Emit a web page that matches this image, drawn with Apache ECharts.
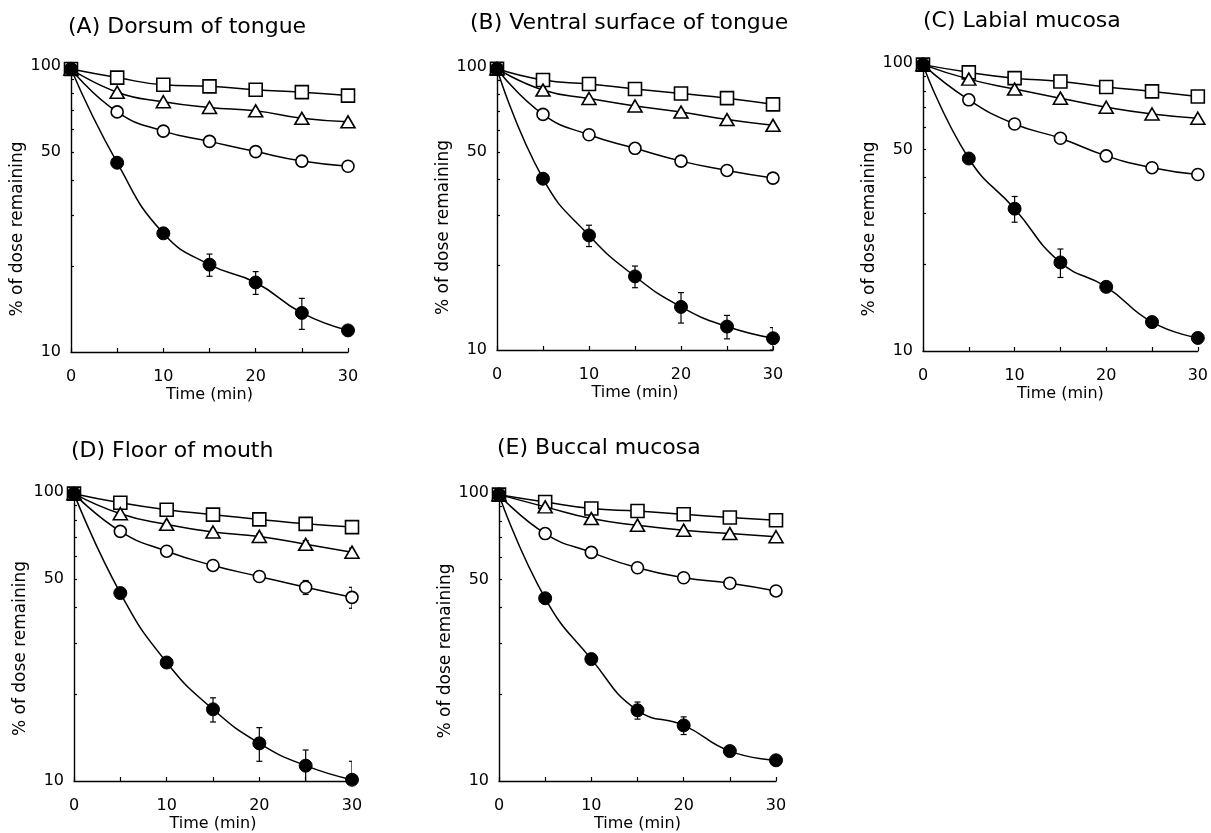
<!DOCTYPE html>
<html>
<head>
<meta charset="utf-8">
<script src="https://cdn.jsdelivr.net/npm/echarts@6/dist/echarts.min.js"></script>
<style>
  html,body{margin:0;padding:0;background:#fff;}
  #main{width:1211px;height:833px;}
</style>
</head>
<body>
<div id="main"></div>
<script>
// time points (min)
var times = [0, 5, 10, 15, 20, 25, 30];
var xLabelValues = [0, 10, 20, 30];
var xTickValues = [0, 5, 10, 15, 20, 25, 30];
var yLabelValues = [10, 50, 100];
var yTickValues = [20, 30, 40, 50, 60, 70, 80, 90];

var titles = ['(A) Dorsum of tongue', '(B) Ventral surface of tongue', '(C) Labial mucosa',
              '(D) Floor of mouth', '(E) Buccal mucosa'];

// (A) Dorsum of tongue
var sqA   = [97.6, 91.1, 86.0, 84.9, 82.6, 81.0, 78.8];
var triA  = [97.6, 81.0, 75.0, 71.6, 69.7, 65.6, 63.8];
var openA = [97.6, 69.1, 59.2, 54.5, 50.2, 46.5, 44.6];
var fillA = [97.6, 45.9, 26.0, 20.2, 17.5, 13.7, 11.9];
var fillErrA = [0, 0.8, 0.8, 1.8, 1.6, 1.7, 0.4];
var openErrA = [0, 0, 0, 0, 0, 0, 0];
var triErrA  = [0, 0, 0, 0, 0, 1.2, 0];

// (B) Ventral surface of tongue
var sqB   = [98.6, 90.0, 87.1, 83.6, 80.6, 77.6, 73.8];
var triB  = [98.6, 82.9, 77.4, 72.8, 69.3, 65.2, 62.2];
var openB = [98.6, 68.0, 57.6, 51.6, 46.5, 43.1, 40.5];
var fillB = [98.6, 40.3, 25.4, 18.2, 14.2, 12.1, 11.0];
var fillErrB = [0, 0.9, 2.2, 1.6, 1.75, 1.15, 1.0];
var openErrB = [0, 0, 0, 0, 0, 0, 0];
var triErrB  = [0, 0, 0, 0, 0, 0, 0];

// (C) Labial mucosa
var sqC   = [98.7, 92.8, 88.6, 86.3, 82.5, 79.7, 76.5];
var triC  = [98.7, 87.9, 81.2, 75.5, 70.2, 66.5, 64.3];
var openC = [98.7, 74.5, 61.4, 54.8, 47.6, 43.3, 41.0];
var fillC = [98.7, 46.6, 31.2, 20.3, 16.7, 12.6, 11.1];
var fillErrC = [0, 1.5, 3.2, 2.3, 0, 0, 0];
var openErrC = [0, 0, 0, 0, 0, 0, 0];
var triErrC  = [0, 0, 0, 1.5, 0, 0, 0];

// (D) Floor of mouth
var sqD   = [98.7, 91.8, 86.8, 83.5, 80.4, 77.6, 75.6];
var triD  = [98.7, 84.1, 77.3, 72.7, 70.2, 65.9, 61.9];
var openD = [98.7, 73.1, 62.4, 55.7, 51.0, 46.8, 43.2];
var fillD = [98.7, 44.7, 25.7, 17.7, 13.5, 11.3, 10.1];
var fillErrD = [0, 0.5, 0.8, 1.7, 1.8, 1.5, 1.6];
var openErrD = [0, 0, 0, 0, 0.8, 2.6, 3.6];
var triErrD  = [0, 0, 0, 1.5, 1.5, 2.0, 2.0];

// (E) Buccal mucosa
var sqE   = [98.7, 93.1, 88.3, 86.6, 84.4, 82.2, 80.4];
var triE  = [98.7, 89.5, 81.5, 77.3, 74.3, 72.3, 70.5];
var openE = [98.7, 72.3, 62.2, 55.0, 50.8, 48.6, 45.7];
var fillE = [98.7, 43.1, 26.5, 17.6, 15.6, 12.7, 11.8];
var fillErrE = [0, 0.5, 0.6, 1.2, 1.1, 0.4, 0.4];
var openErrE = [0, 0, 0, 0, 0, 0, 0];
var triErrE  = [0, 0, 0, 0, 0, 0, 0];

(function () {
  var myChart = echarts.init(document.getElementById('main'));
  var font = 'DejaVu Sans';

  var panels = [
    {sq: sqA, tri: triA, open: openA, fill: fillA, fillErr: fillErrA, openErr: openErrA, triErr: triErrA},
    {sq: sqB, tri: triB, open: openB, fill: fillB, fillErr: fillErrB, openErr: openErrB, triErr: triErrB},
    {sq: sqC, tri: triC, open: openC, fill: fillC, fillErr: fillErrC, openErr: openErrC, triErr: triErrC},
    {sq: sqD, tri: triD, open: openD, fill: fillD, fillErr: fillErrD, openErr: openErrD, triErr: triErrD},
    {sq: sqE, tri: triE, open: openE, fill: fillE, fillErr: fillErrE, openErr: openErrE, triErr: triErrE}
  ];

  // layout of each panel (px)
  var layout = [
    {left: 71,  top: 66,  width: 277, height: 286, tl: 68,  tt: 16, nameShift: 40},
    {left: 497, top: 67,  width: 276, height: 283, tl: 470, tt: 12, nameShift: 38},
    {left: 923, top: 63,  width: 277, height: 288, tl: 923, tt: 10, nameShift: 44},
    {left: 74,  top: 492, width: 278, height: 289, tl: 71,  tt: 440, nameShift: 24},
    {left: 499, top: 493, width: 277, height: 289, tl: 497, tt: 437, nameShift: 28}
  ];

  function pairs(vals) {
    return times.map(function (t, i) { return [t, vals[i]]; });
  }
  function errPairs(vals, errs) {
    return times.map(function (t, i) { return [t, vals[i], errs[i]]; });
  }

  function renderErr(params, api) {
    var e = api.value(2);
    if (!e) return;
    var x = api.value(0), y = api.value(1);
    var top = api.coord([x, y + e]);
    var bot = api.coord([x, y - e]);
    var cap = 3;
    var st = {stroke: '#000', lineWidth: 1.2};
    return {
      type: 'group',
      children: [
        {type: 'line', shape: {x1: top[0], y1: top[1], x2: bot[0], y2: bot[1]}, style: st},
        {type: 'line', shape: {x1: top[0] - cap, y1: top[1], x2: top[0] + cap, y2: top[1]}, style: st},
        {type: 'line', shape: {x1: bot[0] - cap, y1: bot[1], x2: bot[0] + cap, y2: bot[1]}, style: st}
      ]
    };
  }

  var option = {
    animation: false,
    backgroundColor: '#fff',
    title: [],
    grid: [],
    xAxis: [],
    yAxis: [],
    series: []
  };

  panels.forEach(function (p, k) {
    var L = layout[k];
    option.title.push({
      text: titles[k], left: L.tl, top: L.tt, padding: 0,
      textStyle: {fontFamily: font, fontSize: 22, fontWeight: 'normal', color: '#000'}
    });
    option.grid.push({left: L.left, top: L.top, width: L.width, height: L.height});
    option.xAxis.push({
      type: 'value', gridIndex: k, min: 0, max: 30, interval: 10,
      name: 'Time (min)', nameLocation: 'middle', nameGap: 35,
      nameTextStyle: {fontFamily: font, fontSize: 16, color: '#000'},
      axisLine: {lineStyle: {color: '#000', width: 1.4}},
      axisTick: {inside: true, length: 4, customValues: xTickValues, lineStyle: {color: '#000', width: 1.2}},
      axisLabel: {customValues: xLabelValues, margin: 17, fontFamily: font, fontSize: 16, color: '#000'},
      splitLine: {show: false}
    });
    option.yAxis.push({
      type: 'log', gridIndex: k, min: 10, max: 100, logBase: 10,
      name: '% of dose remaining', nameLocation: 'middle', nameGap: 42, nameRotate: 90,
      nameTextStyle: {fontFamily: font, fontSize: 17, color: '#000', padding: [0, L.nameShift, 0, 0]},
      axisLine: {show: true, lineStyle: {color: '#000', width: 1.4}},
      axisTick: {inside: true, length: 3, customValues: yTickValues, lineStyle: {color: '#000', width: 1.2}},
      axisLabel: {customValues: yLabelValues, margin: 10, fontFamily: font, fontSize: 16, color: '#000'},
      splitLine: {show: false}
    });

    var base = {
      type: 'line', xAxisIndex: k, yAxisIndex: k, smooth: 0.5,
      lineStyle: {color: '#000', width: 1.5}, showAllSymbol: true
    };
    // error bars under markers
    [[p.fill, p.fillErr], [p.open, p.openErr], [p.tri, p.triErr]].forEach(function (pe) {
      option.series.push({
        type: 'custom', xAxisIndex: k, yAxisIndex: k, renderItem: renderErr,
        data: errPairs(pe[0], pe[1]), clip: true, z: 1
      });
    });
    option.series.push(Object.assign({}, base, {
      name: 'square', data: pairs(p.sq), symbol: 'rect', symbolSize: 13, z: 2,
      itemStyle: {color: '#fff', borderColor: '#000', borderWidth: 1.6}
    }));
    option.series.push(Object.assign({}, base, {
      name: 'triangle', data: pairs(p.tri), symbol: 'triangle', symbolSize: [14, 12], z: 3,
      itemStyle: {color: '#fff', borderColor: '#000', borderWidth: 1.6}
    }));
    option.series.push(Object.assign({}, base, {
      name: 'open', data: pairs(p.open), symbol: 'circle', symbolSize: 12, z: 4,
      itemStyle: {color: '#fff', borderColor: '#000', borderWidth: 1.6}
    }));
    option.series.push(Object.assign({}, base, {
      name: 'filled', data: pairs(p.fill), symbol: 'circle', symbolSize: 13, z: 5,
      itemStyle: {color: '#000', borderColor: '#000', borderWidth: 1}
    }));
  });

  myChart.setOption(option);
  window.addEventListener('resize', function () {
    myChart.resize();
  });
})();
</script>
</body>
</html>
